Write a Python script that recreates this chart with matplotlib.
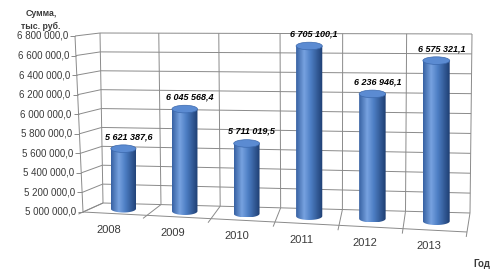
import numpy as np
import matplotlib
matplotlib.use('Agg')
import matplotlib.pyplot as plt
from matplotlib.patches import Polygon, Ellipse
from matplotlib.colors import LinearSegmentedColormap

# data
years = ['2008', '2009', '2010', '2011', '2012', '2013']
sums = [5621387.6, 6045568.4, 5711019.5, 6705100.1, 6236946.1, 6575321.1]
y_ticks = [5000000 + 200000 * k for k in range(10)]
y_min, y_max = 5000000, 6800000

# corners (px, y down) of the back and front planes of the fake 3d box
back = {'tl': (100, 33), 'tr': (472, 34), 'bl': (103, 203), 'br': (470, 213)}
front = {'tl': (75, 36), 'tr': (469, 42), 'bl': (83, 212), 'br': (467, 232)}

grid_col = '#8a8a8a'
txt_col = '#3a3a3a'
font = 'Liberation Sans'


def ru(v):
    # 5 621 387,6 style
    return f"{v:,.1f}".replace(',', ' ').replace('.', ',')


def lerp(a, b, t):
    return (a[0] + (b[0] - a[0]) * t, a[1] + (b[1] - a[1]) * t)


def proj(s, f, d):
    # s: position along categories 0..1, f: value fraction 0..1, d: depth 0 back .. 1 front
    sb = s / (s + (1 - s) * 1.066)

    def plane(c, t):
        top = lerp(c['tl'], c['tr'], t)
        bot = lerp(c['bl'], c['br'], t)
        return lerp(bot, top, f)
    return lerp(plane(back, sb), plane(front, s), d)


fig = plt.figure(figsize=(4.93, 2.75), dpi=100)
# hidden axes holding the data scale
dax = fig.add_axes([0, 0, 1, 1])
dax.set_xlim(0, len(years))
dax.set_ylim(y_min, y_max)
dax.set_axis_off()

ax = fig.add_axes([0, 0, 1, 1])
ax.set_axis_off()


def frac(x, v):
    return dax.transLimits.transform((x, v))


def line(p, q, **kw):
    ax.plot([p[0], q[0]], [p[1], q[1]], color=grid_col, lw=0.7, zorder=1,
            solid_capstyle='butt', **kw)


n = len(years)
# back wall + left wall gridlines, y tick labels
for v in y_ticks:
    _, f = frac(0, v)
    line(proj(0, f, 0), proj(1, f, 0))
    line(proj(0, f, 0), proj(0, f, 1))
    p = proj(0, f, 1)
    line(p, (p[0] - 5, p[1]))
    ax.text(p[0] - 7, p[1], ru(v), ha='right', va='center', fontsize=7,
            family=font, color=txt_col)

# vertical separators on the back wall and lines across the floor
for k in range(n + 1):
    s, _ = frac(k, y_min)
    line(proj(s, 0, 0), proj(s, 1, 0))
    pb, pf = proj(s, 0, 0), proj(s, 0, 1)
    line(pb, pf)
    dx, dy = pf[0] - pb[0], pf[1] - pb[1]
    L = np.hypot(dx, dy)
    line(pf, (pf[0] + dx / L * 5, pf[1] + dy / L * 5))
line(proj(0, 0, 1), proj(1, 0, 1))
line(proj(0, 0, 1), proj(0, 1, 1))

# cylinders
cmap = LinearSegmentedColormap.from_list(
    'cyl', [(0, '#3862a3'), (0.3, '#77a2e0'), (0.55, '#4d7ec4'), (1, '#1e3e72')])
grad = np.linspace(0, 1, 64).reshape(1, -1)
h = 3.8
for i, (yr, v) in enumerate(zip(years, sums)):
    s, f = frac(i + 0.5, v)
    cx, by = proj(s, 0, 0.5)
    _, ty = proj(s, f, 0.5)
    w = 12.5 + s
    a = np.linspace(np.pi, 0, 30)
    pts = [(cx - w, ty), (cx - w, by)]
    pts += list(zip(cx + w * np.cos(a), by + h * np.sin(a)))
    pts += [(cx + w, ty)]
    body = Polygon(pts, closed=True, fc='none', ec='none')
    ax.add_patch(body)
    im = ax.imshow(grad, cmap=cmap, extent=(cx - w, cx + w, by + h, ty - h),
                   aspect='auto', interpolation='bilinear', zorder=3)
    im.set_clip_path(body)
    ax.add_patch(Ellipse((cx, ty), 2 * w, 2 * h, fc='#5b8bd2', ec='#3c69ad',
                         lw=0.5, zorder=4))
    ax.text(cx + 5, ty - 12, ru(v), ha='center', va='center', fontsize=6.5,
            family=font, weight='bold', style='italic', color='black', zorder=5)
    fx, fy = proj(s, 0, 1)
    ax.text(fx - 6, fy + 16, yr, ha='center', va='center', fontsize=8,
            family=font, color=txt_col)

ax.text(41, 20, 'Сумма,\nтыс. руб.', ha='center', va='center', fontsize=6.3,
        family=font, weight='bold', color=txt_col, linespacing=1.5)
ax.text(482, 264, 'Год', ha='center', va='center', fontsize=7,
        family=font, weight='bold', color=txt_col)

ax.set_xlim(0, 493)
ax.set_ylim(275, 0)
fig.savefig('out.png', dpi=100)
